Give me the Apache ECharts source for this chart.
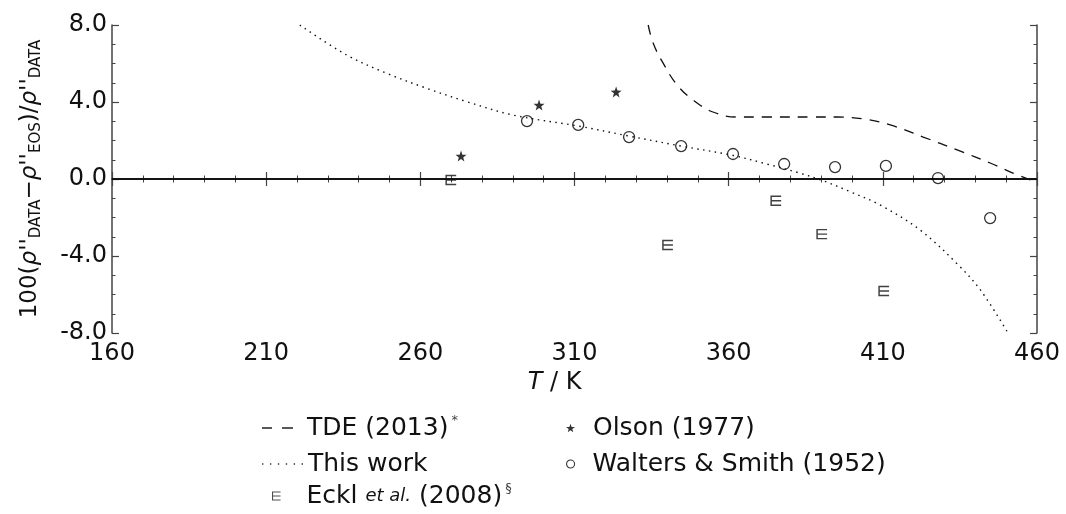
<!DOCTYPE html>
<html>
<head>
<meta charset="utf-8">
<script src="https://cdn.jsdelivr.net/npm/echarts@6/dist/echarts.min.js"></script>
<style>
  html, body { margin: 0; padding: 0; background: #fff; }
  #chart { width: 1066px; height: 514px; }
</style>
</head>
<body>
<div id="chart"></div>
<script>
// Axis ranges and ticks
const xMin = 160, xMax = 460, xStep = 50;
const yMin = -8, yMax = 8, yStep = 4;

// TDE (2013) correlation
const tdeT = [333.9, 335.5, 338.7, 343.3, 348.5, 354.9, 362.7, 373.4, 387.4, 395.2, 403.6, 412.4, 423.1, 434.1, 444.8, 452.2, 457.8];
const tdeY = [8.0, 7.06, 6.03, 4.88, 4.10, 3.48, 3.22, 3.22, 3.22, 3.22, 3.12, 2.81, 2.18, 1.51, 0.83, 0.31, -0.05];

// This work
const thisT = [220.9, 236.1, 249.1, 262.1, 275.0, 290.1, 311.2, 327.7, 344.6, 361.5, 372.3, 383.2, 390.8, 399.4, 409.1, 422.1, 434.5, 441.9, 450.6];
const thisY = [8.0, 6.44, 5.49, 4.71, 4.02, 3.32, 2.75, 2.23, 1.71, 1.22, 0.78, 0.30, -0.10, -0.66, -1.35, -2.65, -4.47, -5.82, -8.0];

// Olson (1977)
const olsonT = [273.2, 298.5, 323.5];
const olsonY = [1.19, 3.84, 4.52];

// Walters & Smith (1952)
const waltersT = [294.6, 311.2, 327.7, 344.6, 361.4, 378.0, 394.5, 411.0, 427.9, 444.8];
const waltersY = [3.01, 2.81, 2.18, 1.71, 1.30, 0.78, 0.62, 0.68, 0.05, -2.03];

// Eckl et al. (2008)
const ecklT = [270.0, 340.3, 375.4, 390.3, 410.4];
const ecklY = [-0.05, -3.43, -1.13, -2.86, -5.82];

// Zero reference line
const zeroT = [160, 460];
const zeroY = [0, 0];

const zip = (a, b) => a.map((v, i) => [v, b[i]]);

// Marker and legend glyphs
const STAR = 'path://M50,0 L61.8,33.8 L97.6,34.5 L69,56.2 L79.4,90.5 L50,70 L20.6,90.5 L31,56.2 L2.4,34.5 L38.2,33.8 Z';
const EMARK = 'path://M10,0 L0,0 L0,10 L10,10 M0,5 L10,5';
const DASH_ICON = 'path://M0,0 H10 V1.3 H0 Z M20,0 H31 V1.3 H20 Z';
const DOT_ICON = 'path://M0,0 h1.4 v1.4 h-1.4 Z M8,0 h1.4 v1.4 h-1.4 Z M16,0 h1.4 v1.4 h-1.4 Z M24,0 h1.4 v1.4 h-1.4 Z M32,0 h1.4 v1.4 h-1.4 Z M40,0 h1.4 v1.4 h-1.4 Z';

const FONT = 'DejaVu Sans';
const INK = '#111';
const SPINE = '#444';

const names = {
  tde: 'TDE (2013)',
  thisw: 'This work',
  eckl: 'Eckl et al. (2008)',
  olson: 'Olson (1977)',
  walters: 'Walters & Smith (1952)'
};

const legendRich = {
  i: { fontStyle: 'italic', fontFamily: FONT, fontSize: 18, color: INK, lineHeight: 28 },
  sup: { fontFamily: FONT, fontSize: 13, color: '#444', verticalAlign: 'top', lineHeight: 28, padding: [0, 0, 10, 3] }
};

function legendText(name) {
  if (name === names.tde) return 'TDE (2013){sup|*}';
  if (name === names.eckl) return 'Eckl {i|et al.} (2008){sup|§}';
  return name;
}

// One legend block per entry so each row sits exactly where it belongs
function legendEntry(name, left, centerY, textGap, extra) {
  return Object.assign({
    orient: 'horizontal',
    padding: 0,
    left: left,
    top: centerY - 14,
    selectedMode: false,
    formatter: legendText,
    textStyle: { fontFamily: FONT, fontSize: 25, color: INK, lineHeight: 28, padding: [0, 0, 0, textGap], rich: legendRich },
    data: [name]
  }, extra);
}

const axisCommon = {
  type: 'value',
  axisLine: { show: true, lineStyle: { color: SPINE, width: 1.5 } },
  axisTick: { show: true, inside: true, length: 7, lineStyle: { color: SPINE, width: 1.2 } },
  minorTick: { show: true, length: 3.5, lineStyle: { color: SPINE, width: 1 } },
  splitLine: { show: false }
};

const option = {
  animation: false,
  backgroundColor: '#fff',
  grid: { left: 112, right: 29, top: 25, bottom: 181 },
  xAxis: [
    Object.assign({}, axisCommon, {
      min: xMin, max: xMax, interval: xStep, position: 'bottom',
      minorTick: Object.assign({}, axisCommon.minorTick, { splitNumber: 5 }),
      axisLabel: { fontFamily: FONT, fontSize: 24, color: INK, margin: 9 },
      name: '{i|T} / K',
      nameLocation: 'middle',
      nameGap: 32,
      nameTextStyle: {
        fontFamily: FONT, fontSize: 24, color: INK, padding: [0, 40, 0, 0],
        rich: { i: { fontFamily: FONT, fontSize: 24, fontStyle: 'italic', color: INK } }
      }
    }),
    Object.assign({}, axisCommon, {
      min: xMin, max: xMax, interval: xStep, position: 'top',
      minorTick: Object.assign({}, axisCommon.minorTick, { splitNumber: 5 }),
      axisLabel: { show: false }
    })
  ],
  yAxis: [
    Object.assign({}, axisCommon, {
      min: yMin, max: yMax, interval: yStep, position: 'left',
      minorTick: Object.assign({}, axisCommon.minorTick, { splitNumber: 4 }),
      axisLabel: { fontFamily: FONT, fontSize: 24, color: INK, margin: 5, formatter: v => v.toFixed(1) },
      name: "100({i|ρ}''{s|DATA}−{i|ρ}''{s|EOS})/{i|ρ}''{s|DATA}",
      nameLocation: 'middle',
      nameRotate: 90,
      nameGap: 68,
      nameTextStyle: {
        fontFamily: FONT, fontSize: 23, color: INK, lineHeight: 28,
        rich: {
          i: { fontFamily: FONT, fontSize: 23, fontStyle: 'italic', color: INK, lineHeight: 28 },
          s: { fontFamily: FONT, fontSize: 15, color: INK, verticalAlign: 'bottom', lineHeight: 17 }
        }
      }
    }),
    Object.assign({}, axisCommon, {
      min: yMin, max: yMax, interval: yStep, position: 'right',
      minorTick: Object.assign({}, axisCommon.minorTick, { splitNumber: 4 }),
      axisLabel: { show: false }
    })
  ],
  legend: [
    legendEntry(names.tde, 262, 428, 9, { itemWidth: 31, itemHeight: 9, icon: DASH_ICON,
      itemStyle: { color: '#222', borderWidth: 0 } }),
    legendEntry(names.thisw, 262, 464, 0, { itemWidth: 41, itemHeight: 9, icon: DOT_ICON,
      itemStyle: { color: '#333', borderWidth: 0 } }),
    legendEntry(names.eckl, 272, 496, 21, { itemWidth: 8, itemHeight: 8, icon: EMARK,
      itemStyle: { color: 'rgba(255,255,255,0)', borderColor: '#222', borderWidth: 1.1 } }),
    legendEntry(names.olson, 566, 428, 13, { itemWidth: 9, itemHeight: 9, icon: STAR,
      itemStyle: { color: '#000', borderWidth: 0 } }),
    legendEntry(names.walters, 566, 464, 13, { itemWidth: 8, itemHeight: 8, icon: 'circle',
      itemStyle: { color: 'rgba(255,255,255,0)', borderColor: '#000', borderWidth: 1.1 } })
  ],
  series: [
    {
      name: 'zero', type: 'line', data: zip(zeroT, zeroY), symbol: 'none', silent: true,
      lineStyle: { color: '#000', width: 1.5 }, z: 1
    },
    {
      name: names.tde, type: 'line', data: zip(tdeT, tdeY), symbol: 'none', smooth: 0.4,
      itemStyle: { color: '#111' },
      lineStyle: { color: '#111', width: 1.3, type: [10, 8] }
    },
    {
      name: names.thisw, type: 'line', data: zip(thisT, thisY), symbol: 'none', smooth: 0.35,
      itemStyle: { color: '#111' },
      lineStyle: { color: '#111', width: 1.4, type: [1.5, 4.5] }
    },
    {
      name: names.olson, type: 'scatter', data: zip(olsonT, olsonY), symbol: STAR, symbolSize: 11,
      itemStyle: { color: '#000' }
    },
    {
      name: names.walters, type: 'scatter', data: zip(waltersT, waltersY), symbol: 'circle', symbolSize: 11,
      itemStyle: { color: 'rgba(255,255,255,0)', borderColor: '#000', borderWidth: 1.3 }
    },
    {
      name: names.eckl, type: 'scatter', data: zip(ecklT, ecklY), symbol: EMARK, symbolSize: [10, 9],
      itemStyle: { color: 'rgba(255,255,255,0)', borderColor: '#111', borderWidth: 1.4 }
    }
  ]
};

const chart = echarts.init(document.getElementById('chart'), null, { renderer: 'canvas' });
chart.setOption(option);
</script>
</body>
</html>
